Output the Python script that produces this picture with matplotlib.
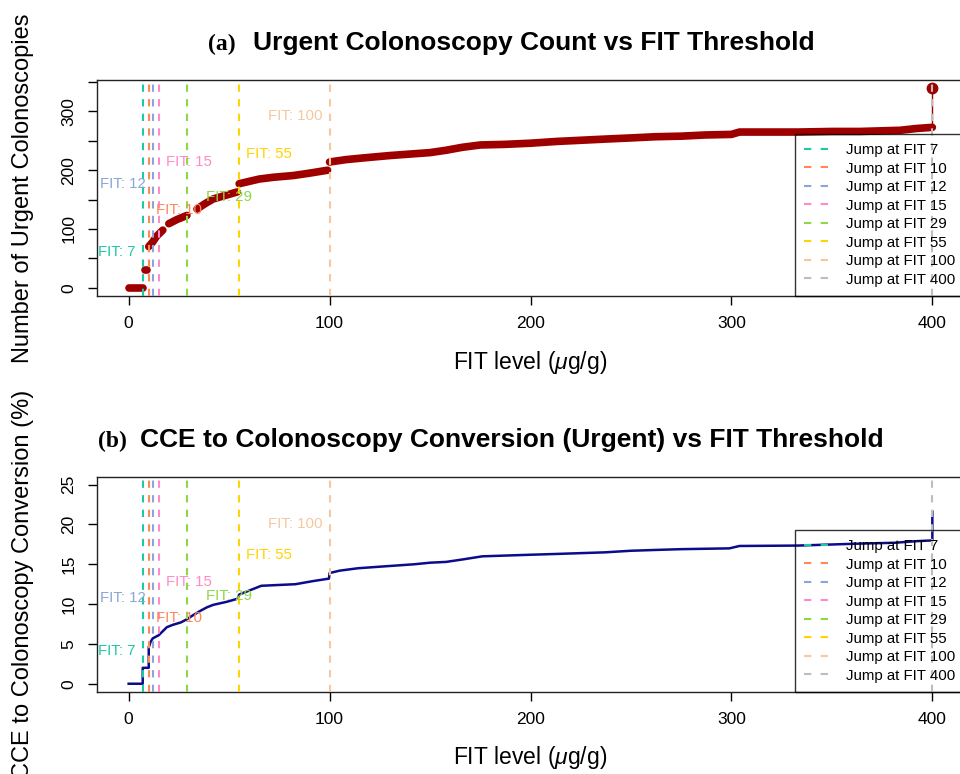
import matplotlib.pyplot as plt
import numpy as np
from matplotlib.lines import Line2D

plt.rcParams['font.family'] = ['Liberation Sans', 'DejaVu Sans']
plt.rcParams['mathtext.fontset'] = 'custom'
plt.rcParams['mathtext.it'] = 'Liberation Sans:italic'
plt.rcParams['mathtext.rm'] = 'Liberation Sans'

# (a) urgent colonoscopy count by FIT threshold
count_fit = [0, 7, 8, 9, 10, 12, 14, 17, 20, 24, 29, 34, 38, 42, 48, 54,
             55, 60, 65, 72, 82, 90, 99,
             100, 108, 117, 130, 142, 150, 158, 166, 175, 187, 200, 213, 225, 237, 250,
             262, 275, 287, 300, 304, 320, 333, 350, 364, 384, 392, 400, 400]
count_vals = [0, 0, 31, 31, 70, 78, 88, 98, 109, 116, 123, 134, 143, 151, 157, 163,
              177, 181, 185, 188, 191, 195, 200,
              214, 218, 221, 225, 228, 230, 234, 239, 243, 244, 246, 249, 251, 253, 255,
              257, 258, 260, 261, 265, 265, 265, 266, 266, 268, 271, 273, 340]

# (b) CCE to colonoscopy conversion (%) by FIT threshold
conv_fit = [0, 7, 7, 10, 10, 11, 12, 15, 17, 19, 22, 26, 29, 32, 36, 39, 42, 49, 54.5, 55,
            59, 63, 66, 83, 92, 99.7, 100, 105, 114, 125, 142, 150, 158, 166, 176, 200,
            213, 225, 237, 250, 262, 275, 299, 304, 333, 364, 381, 392, 400, 400]
conv_vals = [0, 0, 2.0, 2.0, 4.6, 5.3, 5.7, 6.1, 6.6, 7.1, 7.4, 7.7, 8.1, 8.6, 9.2, 9.6, 9.9,
             10.3, 10.7, 11.2, 11.6, 12.0, 12.3, 12.5, 12.9, 13.2, 13.9, 14.2, 14.5, 14.7,
             15.0, 15.2, 15.3, 15.6, 16.0, 16.2, 16.3, 16.4, 16.5, 16.7, 16.8, 16.9, 17.0,
             17.3, 17.35, 17.6, 17.7, 17.9, 18.0, 21.6]

jump_fit = [7, 10, 12, 15, 29, 55, 100, 400]
jump_colors = ['#1cc9a4', '#ff875a', '#8ba5d9', '#ff8bc6', '#8dd849', '#ffd400', '#f5c89e', '#bdbdbd']
# label placement for the "FIT: n" notes (the 400 note falls outside the plot)
label_x = [-6, 25, -3, 30, 50, 70, 83]
label_y_a = [61, 133, 177, 214, 154, 227, 293]
label_y_b = [4.1, 8.3, 10.8, 12.8, 11.0, 16.2, 20.0]

red = '#9e0000'
navy = '#0b0b8c'

fig = plt.figure(figsize=(9.6, 7.74), dpi=100)
ax1 = fig.add_axes([96.5 / 960, 1 - 295.7 / 774, 868 / 960, 215.7 / 774])
ax2 = fig.add_axes([96.5 / 960, 1 - 691.7 / 774, 868 / 960, 215 / 774])


def add_jumps(ax, label_y):
    for i, (j, c) in enumerate(zip(jump_fit, jump_colors)):
        ax.axvline(j, color=c, lw=1.5, linestyle=(0, (3.5, 3.5)), zorder=4)
        if i < len(label_x):
            ax.text(label_x[i], label_y[i], f'FIT: {j}', color=c, fontsize=10.8,
                    ha='center', va='center', zorder=5, clip_on=True)
    handles = [Line2D([0], [0], color=c, lw=1.5, linestyle=(0, (3.5, 4.5))) for c in jump_colors]
    leg = ax.legend(handles, [f'Jump at FIT {j}' for j in jump_fit], loc='lower right',
                    bbox_to_anchor=(1, 0), borderaxespad=0, fancybox=False, fontsize=10.8,
                    handlelength=1.65, handletextpad=1.2, labelspacing=0.3, borderpad=0.6,
                    frameon=True)
    leg.get_frame().set_facecolor('none')
    leg.get_frame().set_edgecolor('black')
    leg.get_frame().set_linewidth(1.0)
    leg.set_zorder(6)


def style_axes(ax):
    for s in ax.spines.values():
        s.set_linewidth(1.0)
        s.set_color('#222222')
    ax.set_xlim(-16, 416)
    ax.set_xticks([0, 100, 200, 300, 400])
    ax.tick_params(direction='out', length=6.5, width=1.0, labelsize=12.5, pad=8)
    plt.setp(ax.get_yticklabels(), rotation=90, va='center')
    ax.set_xlabel(r'FIT level ($\mu$g/g)', fontsize=16.5)
    ax.xaxis.set_label_coords(0.5, -0.245)


# panel (a): dense points drawn as a thick round-capped band, broken at the jumps
x = np.array(count_fit, dtype=float)
y = np.array(count_vals, dtype=float)
breaks = np.where(np.abs(np.diff(y)) > 10)[0] + 1
for sx, sy in zip(np.split(x, breaks), np.split(y, breaks)):
    if len(sx) == 1:
        ax1.plot(sx, sy, 'o', color=red, ms=7.5, mec=red, zorder=3)
    else:
        ax1.plot(sx, sy, color=red, lw=5.5, solid_capstyle='round', solid_joinstyle='round',
                 zorder=3)
ax1.plot([x[-2], x[-1]], [y[-2], y[-1]], color=red, lw=1.0, zorder=3)
ax1.set_ylim(-13.6, 353.6)
ax1.set_yticks(np.arange(0, 351, 50))
ax1.set_yticklabels(['0', '', '100', '', '200', '', '300', ''])
add_jumps(ax1, label_y_a)
style_axes(ax1)
ax1.set_ylabel('Number of Urgent Colonoscopies', fontsize=17)
ax1.yaxis.set_label_coords(-0.072, 0.5)

# panel (b)
ax2.plot(conv_fit, conv_vals, color=navy, lw=1.8, zorder=3)
ax2.set_ylim(-1, 26)
ax2.set_yticks([0, 5, 10, 15, 20, 25])
add_jumps(ax2, label_y_b)
style_axes(ax2)
ax2.set_ylabel('CCE to Colonoscopy Conversion (%)', fontsize=17)
ax2.yaxis.set_label_coords(-0.072, 0.5)

# titles
fig.text(208 / 960, 1 - 50 / 774, '(a)', family='Liberation Serif', weight='bold', fontsize=17,
         ha='left', va='baseline')
fig.text(253 / 960, 1 - 50 / 774, 'Urgent Colonoscopy Count vs FIT Threshold',
         weight='bold', fontsize=19, ha='left', va='baseline')
fig.text(98 / 960, 1 - 447 / 774, '(b)', family='Liberation Serif', weight='bold', fontsize=17,
         ha='left', va='baseline')
fig.text(140 / 960, 1 - 447 / 774, 'CCE to Colonoscopy Conversion (Urgent) vs FIT Threshold',
         weight='bold', fontsize=19, ha='left', va='baseline')

fig.savefig('out.png', dpi=100)
